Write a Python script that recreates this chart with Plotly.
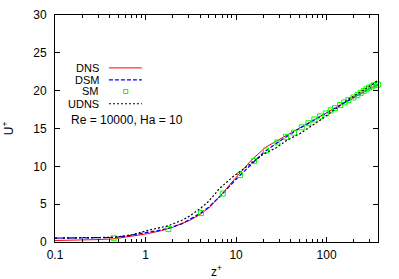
import plotly.graph_objects as go

# ---- data ----
dns_z = [0.1, 0.2, 0.3, 0.45, 0.7, 1.0, 1.5, 2.0, 3.0, 3.84, 5.0, 7.0, 10.0, 15.0, 21.4, 30.0, 40.0, 60.0, 100.0, 150.0, 200.0, 300.0, 370.0]
dns_u = [0.2, 0.25, 0.32, 0.42, 0.72, 1.05, 1.5, 1.95, 2.8, 3.5, 4.5, 6.35, 8.55, 10.9, 12.55, 13.55, 14.4, 15.6, 17.1, 18.3, 19.1, 20.3, 20.8]

dsm_z = [0.1, 0.2, 0.3, 0.45, 0.7, 1.0, 1.17, 1.5, 1.79, 2.5, 3.0, 4.1, 5.0, 7.13, 10.0, 15.0, 20.0, 30.0, 50.0, 100.0, 200.0, 300.0, 370.0]
dsm_u = [0.5, 0.52, 0.55, 0.6, 0.9, 1.2, 1.4, 1.6, 1.8, 2.4, 2.9, 3.85, 4.6, 6.4, 8.3, 10.4, 11.8, 13.3, 15.0, 17.05, 19.1, 20.3, 20.8]

sm_z = [0.446, 1.79, 4.1, 7.13, 11.07, 15.8, 21.4, 28.6, 35.7, 43.7, 53.2, 63.0, 73.3, 84.7, 98.0, 111.0, 124.0, 141.0, 157.0, 174.0,
        198.0, 219.0, 238.0, 257.0, 276.0, 295.0, 314.0, 333.0, 352.0, 369.0]
sm_u = [0.5, 1.71, 3.82, 6.4, 8.85, 10.7, 12.1, 13.15, 13.9, 14.45, 15.15, 15.7, 16.2, 16.6, 17.0, 17.4, 17.7, 18.1, 18.45, 18.75,
        19.1, 19.4, 19.7, 19.95, 20.2, 20.4, 20.55, 20.7, 20.78, 20.8]

udns_z = [0.1, 0.2, 0.3, 0.45, 0.7, 1.0, 1.17, 1.79, 2.5, 3.0, 4.1, 5.0, 6.6, 9.3, 12.0, 15.5, 20.0, 28.2, 36.0, 51.0, 85.0, 120.0, 168.0, 220.0, 278.0, 320.0, 370.0]
udns_u = [0.52, 0.53, 0.56, 0.62, 0.95, 1.45, 1.65, 2.15, 2.85, 3.35, 4.5, 5.4, 7.1, 8.65, 9.6, 10.6, 11.6, 12.5, 13.4, 14.35, 16.1, 17.4, 18.75, 19.6, 20.3, 20.8, 21.4]

x_tickvals = [0.1, 1, 10, 100]
x_ticktext = ["0.1", "1", "10", "100"]
y_tickvals = [0, 5, 10, 15, 20, 25, 30]

legend_names = ["DNS", "DSM", "SM", "UDNS"]
label_text = "Re = 10000, Ha = 10"

FONT = "Liberation Sans, Arial, sans-serif"
FS = 12

fig = go.Figure()
fig.add_trace(go.Scatter(x=dns_z, y=dns_u, mode="lines", line=dict(color="#ff0000", width=1), showlegend=False))
fig.add_trace(go.Scatter(x=dsm_z, y=dsm_u, mode="lines", line=dict(color="#0000ff", width=1.3, dash="4px,2px"), showlegend=False))
fig.add_trace(go.Scatter(x=sm_z, y=sm_u, mode="markers",
                         marker=dict(symbol="square-open", size=5, color="#00ff00", line=dict(width=1, color="#00ff00")),
                         showlegend=False, cliponaxis=False))
fig.add_trace(go.Scatter(x=udns_z, y=udns_u, mode="lines", line=dict(color="#000000", width=1.2, dash="2px,2px"), showlegend=False))

# manual gnuplot-style key (text left, sample right)
rows_y = [0.767, 0.714, 0.663, 0.609]
styles = [dict(color="#ff0000", width=1), dict(color="#0000ff", width=1.3, dash="4px,2px"), None,
          dict(color="#000000", width=1.2, dash="2px,2px")]
for name, yy, st in zip(legend_names, rows_y, styles):
    fig.add_annotation(x=0.142, y=yy, xref="paper", yref="paper", text=name, showarrow=False,
                       xanchor="right", yanchor="middle",
                       font=dict(family=FONT, size=11, color="black"))
    if st is not None:
        fig.add_shape(type="line", xref="paper", yref="paper", x0=0.167, x1=0.269, y0=yy, y1=yy, line=st)
    else:
        fig.add_shape(type="rect", xref="paper", yref="paper", x0=0.219 - 0.0065, x1=0.219 + 0.0065,
                      y0=yy - 0.009, y1=yy + 0.009, line=dict(color="#00ff00", width=1))

fig.add_annotation(x=0.223, y=0.536, xref="paper", yref="paper", text=label_text, showarrow=False,
                   xanchor="center", yanchor="middle", font=dict(family=FONT, size=FS, color="black"))

fig.update_layout(
    width=399, height=279,
    margin=dict(l=55, r=21, t=15, b=37),
    paper_bgcolor="white", plot_bgcolor="white",
    font=dict(family=FONT, size=FS, color="black"),
    showlegend=False,
)
fig.update_xaxes(type="log", range=[-1, 2.568], showgrid=False, zeroline=False, automargin=False,
                 showline=True, linecolor="black", linewidth=1, mirror="allticks",
                 ticks="inside", ticklen=5, tickcolor="black", ticklabelstandoff=2,
                 tickvals=x_tickvals, ticktext=x_ticktext,
                 minor=dict(ticks="inside", ticklen=3, tickcolor="black", dtick="D1", showgrid=False),
                 title=dict(text="z<sup>+</sup>", standoff=9, font=dict(family=FONT, size=FS)))
fig.update_yaxes(range=[0, 30], showgrid=False, zeroline=False, automargin=False,
                 showline=True, linecolor="black", linewidth=1, mirror="allticks",
                 ticks="inside", ticklen=5, tickcolor="black", ticklabelstandoff=5,
                 tickvals=y_tickvals,
                 title=dict(text="U<sup>+</sup>", standoff=22, font=dict(family=FONT, size=FS)))

fig.write_html("out.html", config={"displayModeBar": False},
               post_script="document.body.style.margin='0';document.body.style.overflow='hidden';")
